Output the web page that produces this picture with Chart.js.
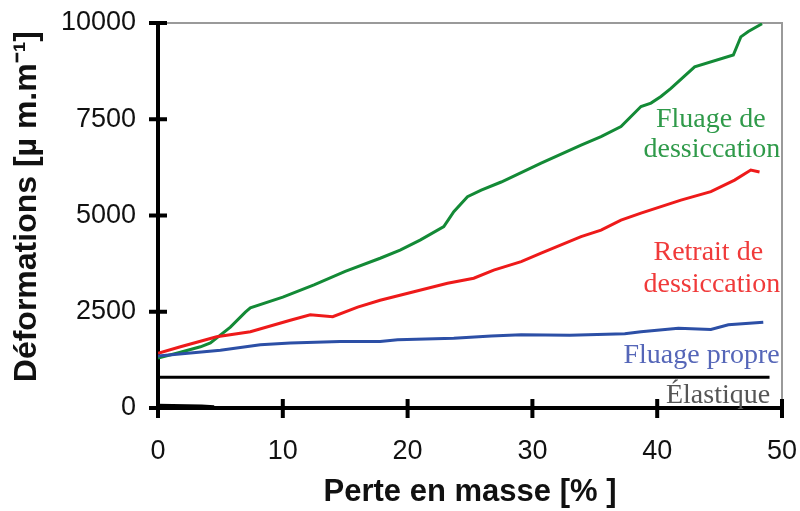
<!DOCTYPE html>
<html>
<head>
<meta charset="utf-8">
<script src="https://cdn.jsdelivr.net/npm/chart.js@4"></script>
<style>
  body { margin: 0; background: #fff; }
  #wrap { width: 800px; height: 511px; }
</style>
</head>
<body>
<div id="wrap"><canvas id="myChart"></canvas></div>
<script>
// Perte en masse [%] / Deformations [um/m]
const greenX = [0, 1.8, 3.4, 4.2, 5.8, 7.0, 7.4, 10, 12.5, 15, 17.8, 19.4, 21.0, 22.9, 23.7, 24.8, 25.9, 27.5, 30.7, 33.9, 35.5, 37.1, 38.7, 39.5, 40.3, 41.1, 43.0, 46.1, 46.7, 47.3, 48.4]
const greenY = [1300, 1450, 1590, 1690, 2100, 2490, 2600, 2880, 3200, 3550, 3890, 4100, 4360, 4710, 5100, 5490, 5660, 5870, 6360, 6830, 7050, 7310, 7830, 7920, 8090, 8300, 8860, 9170, 9640, 9780, 9980]

const redX = [0, 1.8, 4.7, 7.4, 10.6, 12.2, 14.0, 16.0, 17.8, 20.5, 23.2, 25.3, 26.9, 29.1, 30.7, 33.9, 35.5, 37.1, 38.7, 41.9, 44.3, 46.2, 47.5, 48.2]
const redY = [1420, 1590, 1850, 1980, 2280, 2420, 2370, 2620, 2800, 3020, 3240, 3370, 3580, 3800, 4020, 4450, 4620, 4880, 5060, 5400, 5620, 5920, 6180, 6130]

const blueX = [0, 2.6, 5, 8.2, 10.6, 14.6, 17.8, 19.2, 23.7, 26.7, 29.1, 33, 37.4, 38.7, 41.7, 44.3, 45.7, 48.5]
const blueY = [1350, 1430, 1500, 1640, 1690, 1730, 1730, 1770, 1810, 1870, 1900, 1890, 1930, 1980, 2070, 2040, 2160, 2230]

const elasticX = [0, 49]
const elasticY = [800, 800]

const baseX = [0, 3.5, 4.5]
const baseY = [70, 50, 30]

const xTicks = [0, 10, 20, 30, 40, 50]
const yTicks = [0, 2500, 5000, 7500, 10000]

const pts = (xs, ys) => xs.map((v, i) => ({ x: v, y: ys[i] }))

const line = (data, color, width) => ({
    data: data,
    borderColor: color,
    borderWidth: width,
    pointRadius: 0,
    tension: 0,
    fill: false
})

// no automatic room for edge labels, the layout padding decides the plot box
const noPad = s => {
    s.paddingTop = 0
    s.paddingBottom = 0
    s.paddingLeft = 0
    s.paddingRight = 0
}

const frame = {
    id: 'frame',
    beforeDatasetsDraw(chart) {
        const { ctx, chartArea: a } = chart
        ctx.save()
        ctx.strokeStyle = '#9a9a9a'
        ctx.lineWidth = 2
        ctx.beginPath()
        ctx.moveTo(a.left, a.top)
        ctx.lineTo(a.right, a.top)
        ctx.lineTo(a.right, a.bottom)
        ctx.stroke()
        ctx.restore()
    },
    afterDatasetsDraw(chart) {
        const { ctx, chartArea: a, scales } = chart
        ctx.save()
        ctx.strokeStyle = '#000'
        ctx.lineWidth = 4
        scales.x.ticks.forEach(t => {
            const px = scales.x.getPixelForValue(t.value)
            ctx.beginPath()
            ctx.moveTo(px, a.bottom - 9)
            ctx.lineTo(px, a.bottom + 10)
            ctx.stroke()
        })
        scales.y.ticks.forEach(t => {
            const py = scales.y.getPixelForValue(t.value)
            ctx.beginPath()
            ctx.moveTo(a.left - 9, py)
            ctx.lineTo(a.left + 9, py)
            ctx.stroke()
        })
        ctx.restore()
    }
}

const notes = [
    { text: 'Fluage de', x: 39.9, y: 7300, color: '#2f9a4a' },
    { text: 'dessiccation', x: 38.9, y: 6520, color: '#2f9a4a' },
    { text: 'Retrait de', x: 39.7, y: 3840, color: '#f03a3a' },
    { text: 'dessiccation', x: 38.9, y: 3010, color: '#f03a3a' },
    { text: 'Fluage propre', x: 37.3, y: 1170, color: '#5566b8' },
    { text: 'Élastique', x: 40.7, y: 130, color: '#555' }
]

const labels = {
    id: 'labels',
    afterDraw(chart) {
        const { ctx, scales } = chart
        ctx.save()
        ctx.font = '28px "Liberation Serif"'
        ctx.textAlign = 'left'
        ctx.textBaseline = 'alphabetic'
        notes.forEach(n => {
            ctx.fillStyle = n.color
            ctx.fillText(n.text, scales.x.getPixelForValue(n.x), scales.y.getPixelForValue(n.y))
        })
        ctx.restore()
    }
}

const ctx = document.getElementById('myChart').getContext('2d')

const myChart = new Chart(ctx, {
    type: 'line',
    data: {
        datasets: [
            line(pts(baseX, baseY), '#000', 3),
            line(pts(elasticX, elasticY), '#000', 3),
            line(pts(blueX, blueY), '#2c4fa6', 3),
            line(pts(redX, redY), '#ee1a1a', 3),
            line(pts(greenX, greenY), '#138a36', 3)
        ]
    },
    options: {
        responsive: true,
        maintainAspectRatio: false,
        animation: false,
        layout: { padding: { top: 23, right: 18, left: 0, bottom: 0 } },
        plugins: {
            legend: { display: false },
            tooltip: { enabled: false }
        },
        scales: {
            x: {
                type: 'linear',
                min: 0,
                max: 50,
                afterBuildTicks: s => { s.ticks = xTicks.map(v => ({ value: v })) },
                afterFit: s => { s.height = 103; noPad(s) },
                grid: { display: false, drawTicks: false },
                border: { display: true, color: '#000', width: 4 },
                ticks: {
                    color: '#111',
                    padding: 27,
                    callback: v => String(v),
                    font: { family: '"Liberation Sans", Arial', size: 27 }
                },
                title: {
                    display: true,
                    text: 'Perte en masse [% ]',
                    color: '#111',
                    padding: { top: 0, bottom: 0 },
                    font: { family: '"Liberation Sans", Arial', size: 31, weight: 'bold' }
                }
            },
            y: {
                min: 0,
                max: 10000,
                afterBuildTicks: s => { s.ticks = yTicks.map(v => ({ value: v })) },
                afterFit: s => { s.width = 158; noPad(s) },
                grid: { display: false, drawTicks: false },
                border: { display: true, color: '#000', width: 4 },
                ticks: {
                    color: '#111',
                    padding: 22,
                    callback: v => String(v),
                    font: { family: '"Liberation Sans", Arial', size: 27 }
                },
                title: {
                    display: true,
                    text: '  Déformations [µ m.m⁻¹]',
                    color: '#111',
                    padding: { top: 8, bottom: 0 },
                    font: { family: '"Liberation Sans", Arial', size: 32, weight: 'bold' }
                }
            }
        }
    },
    plugins: [frame, labels]
})
</script>
</body>
</html>
